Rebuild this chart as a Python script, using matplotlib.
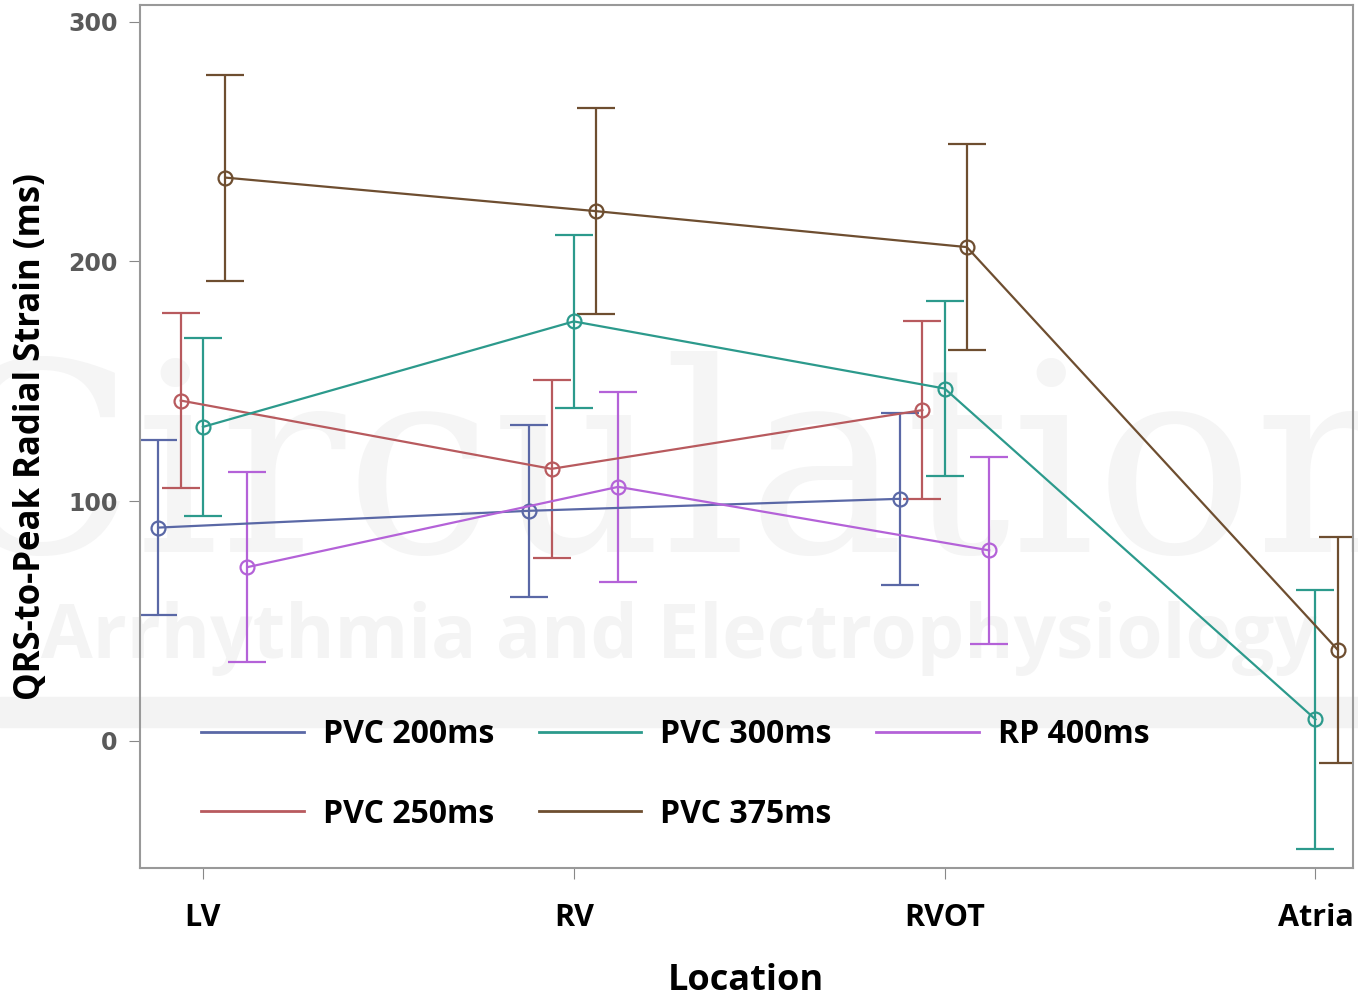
import numpy as np
import matplotlib.pyplot as plt

# data
locations = ["LV", "RV", "RVOT", "Atria"]
series = ["PVC 200ms", "PVC 250ms", "PVC 300ms", "PVC 375ms", "RP 400ms"]

pvc200_mean = [89, 96, 101]
pvc200_err = [36.5, 36, 36]
pvc250_mean = [142, 113.5, 138]
pvc250_err = [36.5, 37, 37]
pvc300_mean = [131, 175, 147, 9]
pvc300_err = [37, 36, 36.5, 54]
pvc375_mean = [235, 221, 206, 38]
pvc375_err = [43, 43, 43, 47]
rp400_mean = [72.5, 106, 79.5]
rp400_err = [39.5, 39.5, 39]

means = [pvc200_mean, pvc250_mean, pvc300_mean, pvc375_mean, rp400_mean]
errs = [pvc200_err, pvc250_err, pvc300_err, pvc375_err, rp400_err]
offsets = [-0.12, -0.06, 0.0, 0.06, 0.12]
colors = ["#5a68a6", "#b85a5e", "#2c9a8c", "#6e4e30", "#b462d8"]

fig = plt.figure(figsize=(13.58, 9.97), dpi=100)
ax = fig.add_axes([0.103, 0.1294, 0.893, 0.8656])
ax.patch.set_alpha(0)

# faint journal watermark, behind the axes
fig.text(0.5, 0.52, "Circulation", fontsize=190, family="DejaVu Serif",
         color="#f5f5f5", ha="center", va="center", zorder=-2)
fig.text(0.5, 0.36, "Arrhythmia and Electrophysiology", fontsize=54,
         family="Open Sans", weight="bold", color="#f4f4f4",
         ha="center", va="center", zorder=-2)
fig.patches.append(plt.Rectangle((0, 0.271), 1, 0.03, transform=fig.transFigure,
                                 color="#f3f3f3", zorder=-3))

x = np.arange(len(locations))
for name, m, e, off, c in zip(series, means, errs, offsets, colors):
    xs = x[:len(m)] + off
    ax.errorbar(xs, m, yerr=e, color=c, lw=1.6, elinewidth=1.6,
                capsize=14, capthick=1.6, marker="o", ms=10,
                mfc="none", mec=c, mew=1.6, label=name)

ax.set_xlim(-0.17, 3.10)
ax.set_ylim(-53, 307)
ax.set_xticks(x)
ax.set_xticklabels(locations, family="Open Sans", weight="bold", fontsize=22)
ax.set_yticks([0, 100, 200, 300])
ax.set_yticklabels(["0", "100", "200", "300"], family="DejaVu Sans",
                   weight="bold", fontsize=17, color="#5a5a5a")
ax.tick_params(axis="both", direction="out", length=8, color="#888888")
ax.tick_params(axis="x", pad=17)
ax.tick_params(axis="y", pad=8)
for s in ax.spines.values():
    s.set_color("#999999")
    s.set_linewidth(1.5)

ax.set_xlabel("Location", family="Open Sans", weight="bold", fontsize=26, labelpad=22)
ax.set_ylabel("QRS-to-Peak Radial Strain (ms)", family="Open Sans",
              weight="bold", fontsize=25, labelpad=14)

ax.legend(handles=[plt.Line2D([], [], color=c, lw=2) for c in colors],
          labels=series, ncol=3, loc="lower left",
          bbox_to_anchor=(0.027, 0.01), frameon=False,
          handlelength=3.2, handletextpad=0.6, columnspacing=1.4, labelspacing=1.45,
          prop={"family": "Open Sans", "weight": "bold", "size": 23})

plt.savefig("out.png", dpi=100)
